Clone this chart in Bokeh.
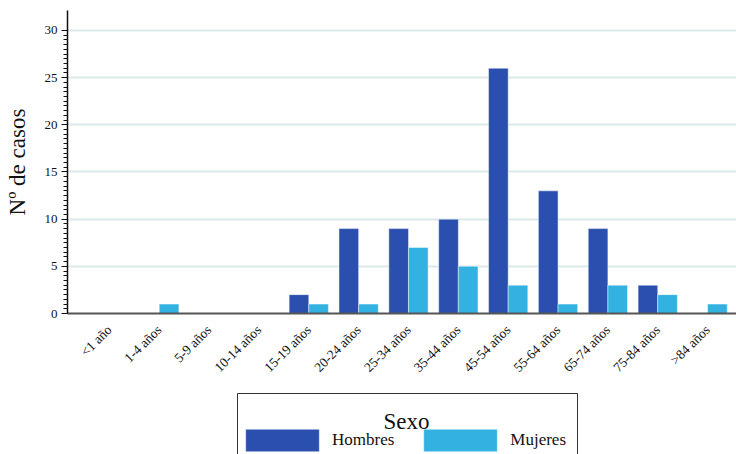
import math
from bokeh.plotting import figure
from bokeh.layouts import column
from bokeh.models import (ColumnDataSource, FixedTicker, Legend, LegendItem, Range1d,
                          Label, BoxAnnotation)
from bokeh.transform import dodge
from bokeh.embed import file_html
from bokeh.resources import INLINE

categories = ["<1 año", "1-4 años", "5-9 años", "10-14 años", "15-19 años", "20-24 años",
              "25-34 años", "35-44 años", "45-54 años", "55-64 años", "65-74 años",
              "75-84 años", ">84 años"]
hombres = [0, 0, 0, 0, 2, 9, 9, 10, 26, 13, 9, 3, 0]
mujeres = [0, 1, 0, 0, 1, 1, 7, 5, 3, 1, 3, 2, 1]
y_ticks = [0, 5, 10, 15, 20, 25, 30]
series_names = ["Hombres", "Mujeres"]
legend_title = "Sexo"

FONT = "Liberation Serif"
C_H = "#2a4fae"
C_M = "#33b1e0"

src = ColumnDataSource(dict(x=list(range(len(categories))), hombres=hombres, mujeres=mujeres))

p = figure(width=736, height=383, output_backend="svg", toolbar_location=None,
           x_range=Range1d(-0.84, 12.58), y_range=Range1d(0, 32.12),
           min_border_left=67, min_border_right=0, min_border_top=10, min_border_bottom=70,
           outline_line_color=None)

rh = p.vbar(x=dodge("x", -0.197), top="hombres", width=0.394, source=src,
            fill_color=C_H, line_color="#ffffff", line_alpha=0.45, line_width=1)
rm = p.vbar(x=dodge("x", 0.197), top="mujeres", width=0.394, source=src,
            fill_color=C_M, line_color="#ffffff", line_alpha=0.45, line_width=1)

p.xgrid.grid_line_color = None
p.ygrid.grid_line_color = "#dce9eb"
p.ygrid.grid_line_width = 2
p.ygrid.ticker = FixedTicker(ticks=y_ticks)

p.xaxis.ticker = FixedTicker(ticks=list(range(len(categories))))
p.xaxis.major_label_overrides = {i: c for i, c in enumerate(categories)}
p.xaxis.major_label_orientation = math.pi / 4
p.xaxis.major_tick_line_color = None
p.xaxis.minor_tick_line_color = None
p.xaxis.axis_line_color = "#555555"
p.xaxis.axis_line_width = 2
p.xaxis.major_label_text_font = FONT
p.xaxis.major_label_text_font_size = "13.5px"
p.xaxis.major_label_text_color = "#111111"
p.xaxis.major_label_standoff = 8

p.yaxis.ticker = FixedTicker(ticks=y_ticks, minor_ticks=[i * 0.5 for i in range(61)])
p.yaxis.axis_label = "Nº de casos"
p.yaxis.axis_label_text_font = FONT
p.yaxis.axis_label_text_font_style = "normal"
p.yaxis.axis_label_text_font_size = "23px"
p.yaxis.axis_label_text_color = "#111111"
p.yaxis.axis_label_standoff = 12
p.yaxis.major_label_text_font = FONT
p.yaxis.major_label_text_font_size = "13px"
p.yaxis.major_label_text_color = "#111111"
p.yaxis.major_label_standoff = 4
p.yaxis.axis_line_color = "#111111"
p.yaxis.axis_line_width = 1.5
p.yaxis.major_tick_out = 6
p.yaxis.major_tick_in = 0
p.yaxis.minor_tick_out = 4
p.yaxis.minor_tick_in = 0
p.yaxis.major_tick_line_color = "#111111"
p.yaxis.minor_tick_line_color = "#111111"

# legend strip below the chart; its frame is aligned with the chart frame (x 67..736 px)
pl = figure(width=736, height=71, output_backend="svg", toolbar_location=None,
            x_range=Range1d(67, 736), y_range=Range1d(0, 71),
            x_axis_type=None, y_axis_type=None,
            min_border_left=67, min_border_right=0, min_border_top=0, min_border_bottom=0,
            outline_line_color=None)
lh = pl.vbar(x="x", top="hombres", width=1, source=src, fill_color=C_H,
             line_color="#ffffff", line_alpha=0.45, visible=False)
lm = pl.vbar(x="x", top="mujeres", width=1, source=src, fill_color=C_M,
             line_color="#ffffff", line_alpha=0.45, visible=False)

pl.add_layout(BoxAnnotation(left=237, right=577, top=61, bottom=-6,
                            fill_color=None, line_color="#333333", line_alpha=1,
                            line_width=1))
pl.add_layout(Label(x=406, y=33, text=legend_title, text_align="center",
                    text_baseline="alphabetic", text_font=FONT, text_font_size="23px",
                    text_color="#111111"))

legend = Legend(items=[LegendItem(label=series_names[0], renderers=[lh]),
                       LegendItem(label=series_names[1], renderers=[lm])],
                orientation="horizontal", location=(169, 0),
                label_text_font=FONT, label_text_font_size="17px", label_text_color="#111111",
                glyph_width=92, glyph_height=28, label_standoff=4, spacing=20,
                padding=0, margin=0, border_line_color=None,
                background_fill_alpha=0, inactive_fill_alpha=0)
pl.add_layout(legend, "center")

open("out.html", "w").write(file_html(column(p, pl, spacing=0), INLINE))
